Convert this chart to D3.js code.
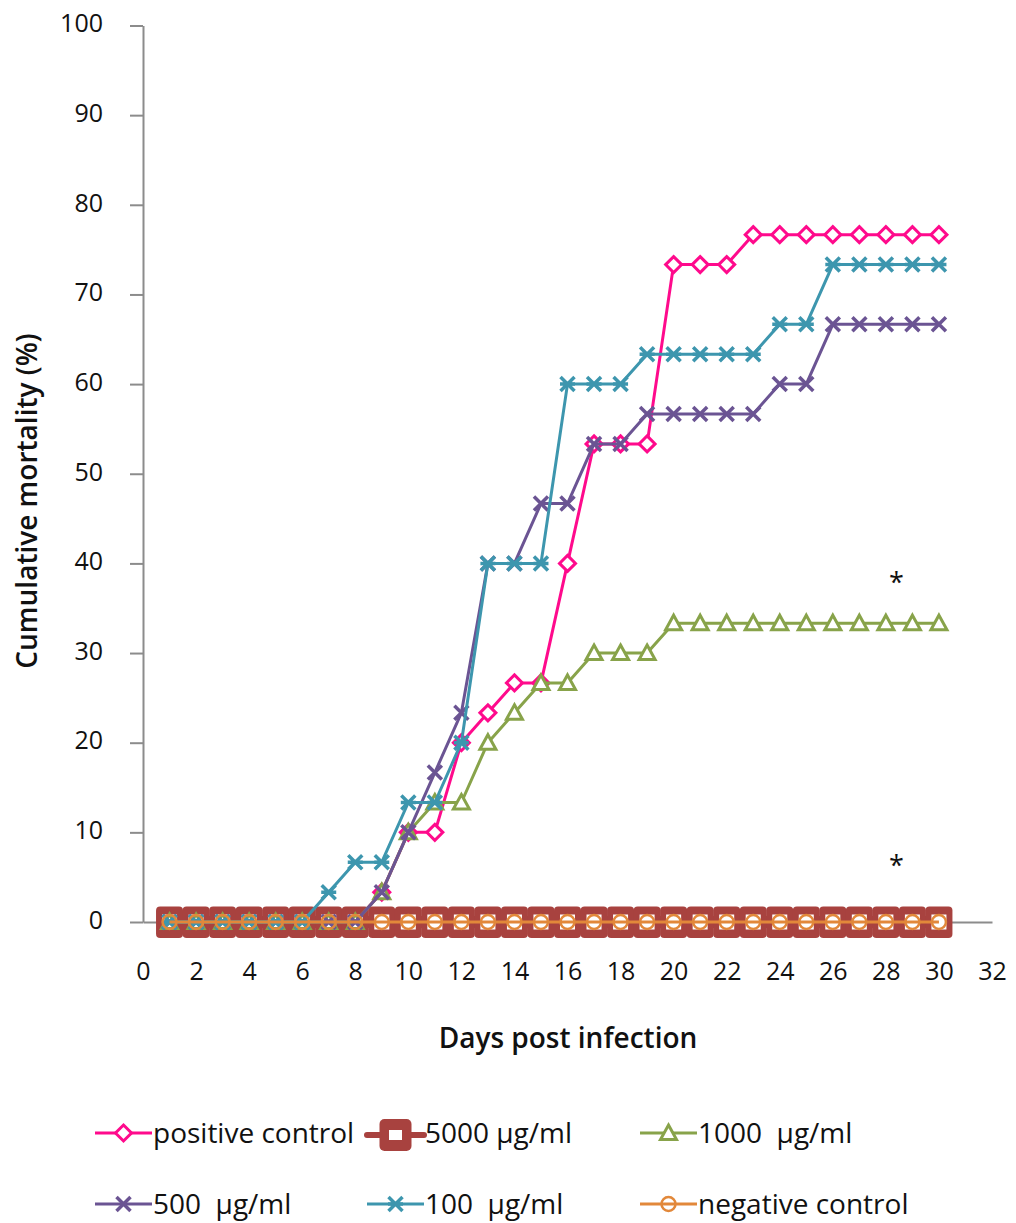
<!DOCTYPE html>
<html><head><meta charset="utf-8">
<script src="https://cdn.jsdelivr.net/npm/d3@7"></script>
<style>
body{margin:0;background:#fff;}
svg{display:block;font-family:"Open Sans","Noto Sans",sans-serif;}
text{white-space:pre;}
</style></head>
<body>
<svg id="chart" width="1016" height="1223"></svg>
<script>
const days = d3.range(1, 31);
const positiveControl = [0,0,0,0,0,0,0,0,3.33,10,10,20,23.33,26.67,26.67,40,53.33,53.33,53.33,73.33,73.33,73.33,76.67,76.67,76.67,76.67,76.67,76.67,76.67,76.67];
const dose5000 = [0,0,0,0,0,0,0,0,0,0,0,0,0,0,0,0,0,0,0,0,0,0,0,0,0,0,0,0,0,0];
const dose1000 = [0,0,0,0,0,0,0,0,3.33,10,13.33,13.33,20,23.33,26.67,26.67,30,30,30,33.33,33.33,33.33,33.33,33.33,33.33,33.33,33.33,33.33,33.33,33.33];
const dose500 = [0,0,0,0,0,0,0,0,3.33,10,16.67,23.33,40,40,46.67,46.67,53.33,53.33,56.67,56.67,56.67,56.67,56.67,60,60,66.67,66.67,66.67,66.67,66.67];
const dose100 = [0,0,0,0,0,0,3.33,6.67,6.67,13.33,13.33,20,40,40,40,60,60,60,63.33,63.33,63.33,63.33,63.33,66.67,66.67,73.33,73.33,73.33,73.33,73.33];
const negativeControl = [0,0,0,0,0,0,0,0,0,0,0,0,0,0,0,0,0,0,0,0,0,0,0,0,0,0,0,0,0,0];
const xTicks = d3.range(0, 33, 2);
const yTicks = d3.range(0, 101, 10);
const seriesNames = ["positive control","5000 µg/ml","1000  µg/ml","500  µg/ml","100  µg/ml","negative control"];
const asterisks = [{day:28.4, value:38.3},{day:28.4, value:6.7}];

const series = [
  {name:seriesNames[0], values:positiveControl, color:"#FF0A8C", marker:"diamond"},
  {name:seriesNames[1], values:dose5000, color:"#A8423F", marker:"square"},
  {name:seriesNames[2], values:dose1000, color:"#88A34A", marker:"triangle"},
  {name:seriesNames[3], values:dose500, color:"#6B5493", marker:"x"},
  {name:seriesNames[4], values:dose100, color:"#3D96AE", marker:"star"},
  {name:seriesNames[5], values:negativeControl, color:"#E2883A", marker:"circle"}
];

const svg = d3.select("#chart");
const x = d3.scaleLinear().domain([0, 32]).range([143, 992]);
const y = d3.scaleLinear().domain([0, 100]).range([922, 25.5]);

// axes
const yAxis = svg.append("g").attr("transform", `translate(${x(0)},0)`)
  .call(d3.axisLeft(y).tickValues(yTicks).tickSize(13).tickPadding(27).tickSizeOuter(0));
yAxis.select(".domain").attr("stroke", "#8c8c8c").attr("stroke-width", 2);
yAxis.selectAll(".tick line").attr("stroke", "#8c8c8c").attr("stroke-width", 2);
yAxis.selectAll(".tick text").attr("font-size", 25).attr("fill", "#111").attr("font-family", "Open Sans").attr("dy", "0.25em");

const xAxis = svg.append("g").attr("transform", `translate(0,${y(0)})`)
  .call(d3.axisBottom(x).tickValues(xTicks).tickSize(0).tickPadding(40).tickSizeOuter(0));
xAxis.select(".domain").attr("stroke", "#8c8c8c").attr("stroke-width", 2);
xAxis.selectAll(".tick text").attr("font-size", 25).attr("fill", "#111").attr("font-family", "Open Sans");

// axis titles
svg.append("text").attr("x", 568).attr("y", 1048).attr("text-anchor", "middle")
  .attr("font-size", 28).attr("font-weight", 600).attr("fill", "#111").text("Days post infection");
svg.append("text").attr("transform", "translate(37,501) rotate(-90)").attr("text-anchor", "middle")
  .attr("font-size", 28).attr("font-weight", 600).attr("fill", "#111").text("Cumulative mortality (%)");

function drawMarker(g, type, color, cx, cy, legend) {
  if (type === "diamond") {
    g.append("path").attr("d", `M${cx},${cy-8}L${cx+8},${cy}L${cx},${cy+8}L${cx-8},${cy}Z`)
      .attr("fill", "#fff").attr("stroke", color).attr("stroke-width", 3);
  } else if (type === "square") {
    if (legend) {
      g.append("rect").attr("x", cx-16).attr("y", cy-16).attr("width", 32).attr("height", 32).attr("rx", 5)
        .attr("fill", color);
      g.append("rect").attr("x", cx-6.5).attr("y", cy-5).attr("width", 13).attr("height", 10).attr("fill", "#fff");
    } else {
      g.append("rect").attr("x", cx-13.5).attr("y", cy-15.5).attr("width", 27).attr("height", 31.5).attr("rx", 4)
        .attr("fill", color);
      g.append("rect").attr("x", cx-7.5).attr("y", cy-7.5).attr("width", 15).attr("height", 15).attr("fill", "#fff");
    }
  } else if (type === "triangle") {
    g.append("path").attr("d", `M${cx},${cy-8}L${cx+8},${cy+6.5}L${cx-8},${cy+6.5}Z`)
      .attr("fill", "#fff").attr("stroke", color).attr("stroke-width", 3);
  } else if (type === "x") {
    g.append("path").attr("d", `M${cx-7},${cy-7}L${cx+7},${cy+7}M${cx+7},${cy-7}L${cx-7},${cy+7}`)
      .attr("stroke", color).attr("stroke-width", 3.5);
  } else if (type === "star") {
    g.append("path").attr("d", `M${cx-7},${cy-7}L${cx+7},${cy+7}M${cx+7},${cy-7}L${cx-7},${cy+7}M${cx-7.5},${cy}L${cx+7.5},${cy}`)
      .attr("stroke", color).attr("stroke-width", 3.5);
  } else if (type === "circle") {
    g.append("circle").attr("cx", cx).attr("cy", cy).attr("r", 7)
      .attr("fill", "none").attr("stroke", color).attr("stroke-width", 2.5);
  }
}

const line = d3.line().x((d,i) => x(days[i])).y(d => y(d));
series.forEach(s => {
  const g = svg.append("g");
  g.append("path").datum(s.values).attr("d", line).attr("fill", "none")
    .attr("stroke", s.color).attr("stroke-width", s.marker === "square" ? 12 : 3).attr("stroke-linejoin", "round");
  s.values.forEach((v, i) => drawMarker(g, s.marker, s.color, x(days[i]), y(v), false));
});

// asterisks
asterisks.forEach(a => {
  svg.append("text").attr("x", x(a.day)).attr("y", y(a.value) + 13).attr("text-anchor", "middle")
    .attr("font-size", 27).attr("fill", "#111").text("*");
});

// legend
const legendPos = [[95,1133],[367,1135],[640,1133],[95,1204],[367,1204],[640,1204]];
series.forEach((s, i) => {
  const [lx, ly] = legendPos[i];
  const g = svg.append("g");
  g.append("line").attr("x1", lx).attr("x2", lx+57).attr("y1", ly).attr("y2", ly)
    .attr("stroke", s.color).attr("stroke-width", s.marker === "square" ? 6 : 3).attr("stroke-linecap", s.marker === "square" ? "round" : "butt");
  drawMarker(g, s.marker, s.color, lx+28.5, ly, true);
  g.append("text").attr("x", lx+58).attr("y", 10 + legendPos[i < 3 ? 0 : 3][1]).attr("font-size", 28).attr("fill", "#111").text(s.name);
});
</script>
</body></html>
